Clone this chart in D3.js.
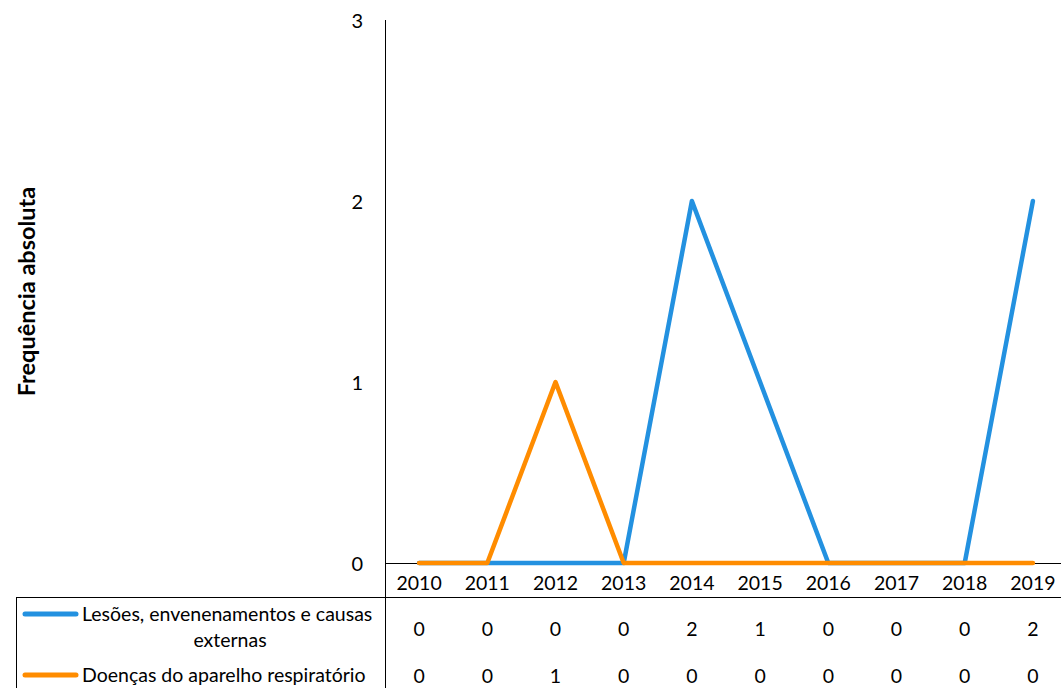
<!DOCTYPE html>
<html>
<head>
<meta charset="utf-8">
<script src="https://cdn.jsdelivr.net/npm/d3@7"></script>
<style>
  html, body { margin: 0; padding: 0; background: #fff; }
  svg { display: block; font-family: Lato, "Open Sans", sans-serif; }
</style>
</head>
<body>
<svg id="chart" width="1061" height="688"></svg>
<script>
// Years on the category axis
const years = ["2010", "2011", "2012", "2013", "2014", "2015", "2016", "2017", "2018", "2019"];
// Series names (first one wraps in the data table)
const seriesNames = ["Lesões, envenenamentos e causas externas", "Doenças do aparelho respiratório"];
const seriesLines = [["Lesões, envenenamentos e causas", "externas"], ["Doenças do aparelho respiratório"]];
const seriesColors = ["#2391e0", "#ff8c00"];
// Values per series
const lesoes = [0, 0, 0, 0, 2, 1, 0, 0, 0, 2];
const respiratorio = [0, 0, 1, 0, 0, 0, 0, 0, 0, 0];
const yTicks = [0, 1, 2, 3];

const series = [lesoes, respiratorio];

const svg = d3.select("#chart");
const plotLeft = 385, plotRight = 1067, plotTop = 20, plotBottom = 563;
const fontSize = 19.5;

const x = d3.scaleBand().domain(years).range([plotLeft, plotRight]);
const y = d3.scaleLinear().domain([0, 3]).range([plotBottom, plotTop]);
const cx = d => x(d) + x.bandwidth() / 2;

// Y axis line and tick labels
svg.append("line")
  .attr("x1", plotLeft + 0.5).attr("x2", plotLeft + 0.5).attr("y1", plotTop).attr("y2", 688)
  .attr("stroke", "#000").attr("stroke-width", 1);
svg.append("g").selectAll("text").data(yTicks).join("text")
  .attr("x", 363).attr("y", d => y(d) + 1).attr("dy", "0.35em")
  .attr("text-anchor", "end").attr("font-size", 20).attr("fill", "#000")
  .text(d => d);

// Axis title
svg.append("text")
  .attr("transform", `translate(27,${(plotTop + plotBottom) / 2}) rotate(-90)`)
  .attr("text-anchor", "middle").attr("dy", "0.35em")
  .attr("font-size", 23.5).attr("font-weight", "bold")
  .text("Frequência absoluta");

// Table grid lines
svg.append("line").attr("x1", plotLeft).attr("x2", 1061).attr("y1", plotBottom + 0.5).attr("y2", plotBottom + 0.5)
  .attr("stroke", "#000").attr("stroke-width", 1);
svg.append("line").attr("x1", 16).attr("x2", 1061).attr("y1", 597.5).attr("y2", 597.5)
  .attr("stroke", "#000").attr("stroke-width", 1);
svg.append("line").attr("x1", 16.5).attr("x2", 16.5).attr("y1", 597).attr("y2", 688)
  .attr("stroke", "#000").attr("stroke-width", 1);

// Year labels
svg.append("g").selectAll("text").data(years).join("text")
  .attr("x", d => cx(d)).attr("y", 583).attr("dy", "0.35em")
  .attr("text-anchor", "middle").attr("font-size", fontSize).text(d => d);

// Lines (blue drawn first, orange on top)
const line = d3.line().x((d, i) => cx(years[i])).y(d => y(d));
series.forEach((s, k) => {
  svg.append("path").datum(s)
    .attr("d", line)
    .attr("fill", "none")
    .attr("stroke", seriesColors[k])
    .attr("stroke-width", 4.5)
    .attr("stroke-linejoin", "round")
    .attr("stroke-linecap", "round");
});

// Data table rows
const rowY = [629, 676];
const keyY = [614, 675];
series.forEach((s, k) => {
  svg.append("line")
    .attr("x1", 25).attr("x2", 76).attr("y1", keyY[k]).attr("y2", keyY[k])
    .attr("stroke", seriesColors[k]).attr("stroke-width", 5).attr("stroke-linecap", "round");
  seriesLines[k].forEach((t, j) => {
    svg.append("text")
      .attr("x", j === 0 ? 82 : 230).attr("y", keyY[k] + j * 26).attr("dy", "0.35em")
      .attr("text-anchor", j === 0 ? "start" : "middle")
      .attr("font-size", fontSize).text(t);
  });
  svg.append("g").selectAll("text").data(s).join("text")
    .attr("x", (d, i) => cx(years[i])).attr("y", rowY[k]).attr("dy", "0.35em")
    .attr("text-anchor", "middle").attr("font-size", fontSize).text(d => d);
});
</script>
</body>
</html>
